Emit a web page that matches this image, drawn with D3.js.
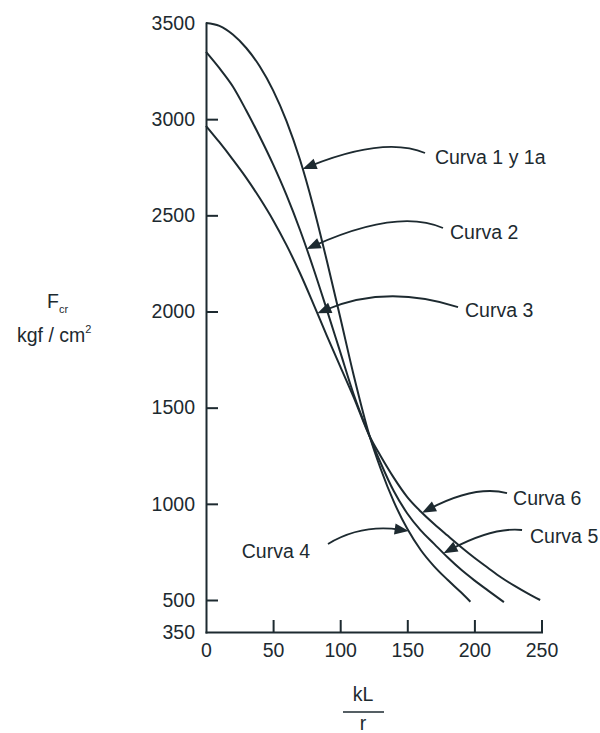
<!DOCTYPE html>
<html><head><meta charset="utf-8">
<script src="https://cdn.jsdelivr.net/npm/d3@7"></script>
<style>
html,body{margin:0;padding:0;background:#fff;}
svg{display:block;}
text{font-family:"Liberation Sans",Arial,Helvetica,sans-serif;fill:#1d2a30;}
</style></head><body>
<svg id="chart" width="600" height="733"></svg>
<script>
// ---- data (kL/r vs Fcr, kgf/cm2) ----
const curveAx = [0,10,20,30,40,50,60,70,80,90,100,110,122,130,140,150,160,170,180,190,197];
const curveAy = [3500,3485,3440,3370,3275,3150,2990,2790,2545,2265,1970,1670,1350,1185,1010,870,760,675,605,540,492];
const curveBx = [0,10,20,30,40,50,60,70,80,90,100,110,122,130,140,150,160,170,180,190,200,210,222];
const curveBy = [3350,3265,3170,3045,2910,2765,2605,2425,2225,2010,1790,1570,1350,1215,1065,950,862,792,722,658,602,550,490];
const curveCx = [0,10,20,30,40,50,60,70,80,90,100,110,122,130,140,150,160,170,180,190,200,210,220,230,240,249];
const curveCy = [2965,2880,2790,2695,2590,2475,2345,2200,2040,1875,1715,1555,1350,1250,1135,1035,960,895,835,776,720,668,617,573,533,500];

const xTicks = [0,50,100,150,200,250];
const yTicks = [350,500,1000,1500,2000,2500,3000,3500];

// annotations (data coordinates)
const annLabels = ["Curva 1 y 1a","Curva 2","Curva 3","Curva 4","Curva 5","Curva 6"];
const annCurve  = ["A","B","C","A","B","C"];
const annTipX   = [72,75,83,151,177,161];
const annTextX  = [170.6,181.8,193,77.5,241.4,228.8];
const annTextY  = [2767,2377,1971,718,796,994];
const annStartX = [163.2,176.6,187.8,90.9,235.5,224.3];
const annStartY = [2824,2434,2023,791,864,1056];
const annCtrlX  = [133.4,143.1,134.1,115.5,213.9,200.4];
const annCtrlY  = [2912,2538,2143,895,880,1098];

// ---- drawing ----
const ink = "#1d2a30";
const svg = d3.select("#chart");
const x = d3.scaleLinear().domain([0,250]).range([206,541.5]);
const y = d3.scaleLinear().domain([350,500,3500]).range([632,600,23]);
const FS = "19.5px";

const series = {
  A: curveAx.map((v,i)=>[v,curveAy[i]]),
  B: curveBx.map((v,i)=>[v,curveBy[i]]),
  C: curveCx.map((v,i)=>[v,curveCy[i]])
};

// axes
const xAxis = d3.axisBottom(x).tickValues(xTicks).tickSizeInner(-12).tickSizeOuter(0).tickPadding(11).tickFormat(d3.format("d"));
const gx = svg.append("g").attr("transform","translate(0,632)").call(xAxis);
const yAxis = d3.axisLeft(y).tickValues(yTicks).tickSizeInner(-12).tickSizeOuter(0).tickPadding(11).tickFormat(d3.format("d"));
const gy = svg.append("g").attr("transform","translate(206,0)").call(yAxis);
[gx,gy].forEach(g=>{
  g.attr("font-family",null).attr("font-size",null);
  g.select(".domain").attr("stroke",ink).attr("stroke-width",2).attr("stroke-linecap","square");
  g.selectAll(".tick line").attr("stroke",ink).attr("stroke-width",2);
  g.selectAll(".tick text").style("font-size",FS).attr("fill",ink);
});
gx.selectAll(".tick").filter(d=>d===0).select("line").remove();
gy.selectAll(".tick").filter(d=>d===350||d===3500).select("line").remove();

// curves
const line = d3.line().x(d=>x(d[0])).y(d=>y(d[1])).curve(d3.curveMonotoneX);
svg.append("g").selectAll("path").data(Object.values(series)).join("path")
  .attr("d",line).attr("fill","none").attr("stroke",ink).attr("stroke-width",2);

// annotations
function valueAt(key, xv){
  const s = series[key];
  const f = d3.scaleLinear().domain(s.map(d=>d[0])).range(s.map(d=>d[1]));
  return f(xv);
}
const ag = svg.append("g");
annLabels.forEach((lab,i)=>{
  const tx = x(annTipX[i]), ty = y(valueAt(annCurve[i], annTipX[i]));
  const cx = x(annCtrlX[i]), cy = y(annCtrlY[i]);
  const sx = x(annStartX[i]), sy = y(annStartY[i]);
  let dx = tx-cx, dy = ty-cy; const L = Math.hypot(dx,dy); dx/=L; dy/=L;
  const len = 14, hw = 5.5;
  const bx = tx-dx*len, by = ty-dy*len;
  const p = d3.path();
  p.moveTo(sx,sy);
  p.quadraticCurveTo(cx,cy,tx-dx*len*0.6,ty-dy*len*0.6);
  ag.append("path").attr("d",p.toString()).attr("fill","none").attr("stroke",ink).attr("stroke-width",1.8);
  ag.append("path").attr("d",`M${tx},${ty}L${bx-dy*hw},${by+dx*hw}L${bx+dy*hw},${by-dx*hw}Z`).attr("fill",ink);
  ag.append("text").attr("x",x(annTextX[i])).attr("y",y(annTextY[i]))
    .attr("text-anchor", annTextX[i] < annTipX[i] ? "end" : "start")
    .style("font-size",FS).text(lab);
});

// axis titles
const t1 = svg.append("text").attr("x",47).attr("y",308).style("font-size",FS);
t1.append("tspan").text("F");
t1.append("tspan").attr("dy",5).style("font-size","11px").text("cr");
const t2 = svg.append("text").attr("x",17).attr("y",342).style("font-size",FS);
t2.append("tspan").text("kgf / cm");
t2.append("tspan").attr("dy",-9).style("font-size","11px").text("2");

svg.append("text").attr("x",363).attr("y",701).attr("text-anchor","middle").style("font-size",FS).text("kL");
svg.append("line").attr("x1",343).attr("x2",384).attr("y1",712).attr("y2",712).attr("stroke",ink).attr("stroke-width",1.6);
svg.append("text").attr("x",363).attr("y",730).attr("text-anchor","middle").style("font-size",FS).text("r");
</script>
</body></html>
